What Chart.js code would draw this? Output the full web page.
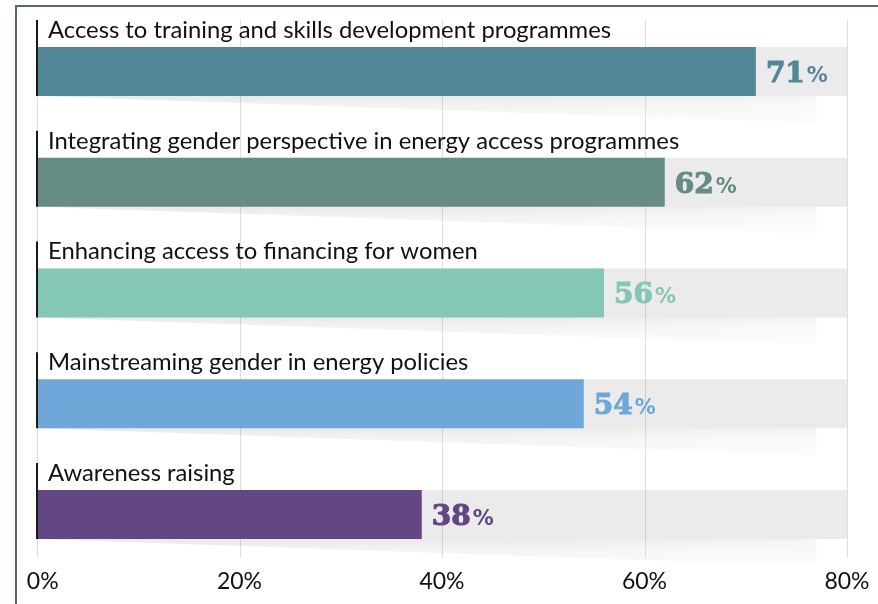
<!DOCTYPE html>
<html><head><meta charset="utf-8">
<script src="https://cdn.jsdelivr.net/npm/chart.js@4.4.1/dist/chart.umd.min.js"></script>
<style>
html,body{margin:0;padding:0;background:#fff;}
#wrap{position:relative;width:878px;height:604px;overflow:hidden;}
#frame{position:absolute;left:15px;top:5px;right:-10px;bottom:-10px;border-left:2px solid #56647f;border-top:2px solid #56647f;}
canvas{position:absolute;left:0;top:0;}
</style></head><body>
<div id="wrap"><div id="frame"></div><canvas id="c" width="878" height="604"></canvas></div>
<script>
const categories = [
  'Access to training and skills development programmes',
  'Integrating gender perspective in energy access programmes',
  'Enhancing access to financing for women',
  'Mainstreaming gender in energy policies',
  'Awareness raising'
];
const values = [71, 62, 56, 54, 38];
const barColors = ['#528896', '#668c86', '#84c7b7', '#6fa7d8', '#634683'];
const axisMax = 80;
const tickStep = 20;

const labelFont = '23.8px Lato';

const decor = {
  id: 'decor',
  beforeDatasetsDraw(chart) {
    const {ctx, chartArea: a, scales: {x}} = chart;
    ctx.save();
    ctx.strokeStyle = '#dedede';
    ctx.lineWidth = 1;
    x.ticks.forEach(t => {
      const px = Math.round(x.getPixelForValue(t.value)) + 0.5;
      ctx.beginPath();
      ctx.moveTo(px, a.top + 4);
      ctx.lineTo(px, a.bottom - 12);
      ctx.stroke();
    });
    const meta = chart.getDatasetMeta(0);
    meta.data.forEach(bar => {
      const y0 = bar.y + bar.height / 2;
      const xl = a.left, xr = a.left + (a.right - a.left) * 0.962;
      const depth = 27;
      const g = ctx.createLinearGradient(0, y0, 0, y0 + depth);
      g.addColorStop(0, 'rgba(0,0,0,0.085)');
      g.addColorStop(0.3, 'rgba(0,0,0,0.05)');
      g.addColorStop(1, 'rgba(0,0,0,0.015)');
      ctx.beginPath();
      ctx.moveTo(xl, y0);
      ctx.lineTo(xr, y0);
      ctx.lineTo(xr, y0 + depth);
      ctx.closePath();
      ctx.fillStyle = g;
      ctx.fill();
      const h = ctx.createLinearGradient(xl, 0, xr, 0);
      h.addColorStop(0, 'rgba(255,255,255,0)');
      h.addColorStop(0.6, 'rgba(255,255,255,0)');
      h.addColorStop(1, 'rgba(255,255,255,0.5)');
      ctx.fillStyle = h;
      ctx.fill();
    });
    ctx.restore();
  },
  afterDatasetsDraw(chart) {
    const {ctx, chartArea: a} = chart;
    const meta = chart.getDatasetMeta(0);
    ctx.save();
    meta.data.forEach((bar, i) => {
      const top = bar.y - bar.height / 2;
      const bottom = bar.y + bar.height / 2;
      ctx.strokeStyle = '#1a1a1a';
      ctx.lineWidth = 2;
      ctx.beginPath();
      ctx.moveTo(a.left, top - 27);
      ctx.lineTo(a.left, bottom);
      ctx.stroke();
      ctx.fillStyle = '#111';
      ctx.font = labelFont;
      ctx.textBaseline = 'alphabetic';
      ctx.textAlign = 'left';
      ctx.fillText(categories[i], a.left + 11, top - 9);
      const numTxt = String(values[i]);
      ctx.fillStyle = barColors[i];
      ctx.strokeStyle = barColors[i];
      ctx.lineWidth = 1.1;
      ctx.lineJoin = 'round';
      ctx.font = 'bold 28px "DejaVu Serif"';
      const bx = bar.x + 10;
      const by = bar.y + 10.5;
      ctx.fillText(numTxt, bx, by);
      ctx.strokeText(numTxt, bx, by);
      const w = ctx.measureText(numTxt).width;
      ctx.font = 'bold 21px "DejaVu Sans"';
      ctx.fillText('%', bx + w + 2, by);
    });
    ctx.restore();
  }
};

new Chart(document.getElementById('c'), {
  type: 'bar',
  data: {
    labels: categories,
    datasets: [
      {
        data: values,
        backgroundColor: barColors,
        borderWidth: 0,
        grouped: false,
        barPercentage: 1,
        categoryPercentage: 0.4425
      },
      {
        data: categories.map(() => axisMax),
        backgroundColor: 'rgba(0,0,0,0.078)',
        borderWidth: 0,
        grouped: false,
        barPercentage: 1,
        categoryPercentage: 0.4425
      }
    ]
  },
  options: {
    indexAxis: 'y',
    responsive: false,
    animation: false,
    events: [],
    layout: { padding: { left: 37, right: 31, top: 16, bottom: 10.5 } },
    plugins: { legend: { display: false }, tooltip: { enabled: false } },
    scales: {
      y: { display: false, offset: true },
      x: {
        min: 0, max: axisMax,
        border: { display: false },
        grid: { display: false, drawTicks: false },
        ticks: {
          stepSize: tickStep,
          padding: -2,
          color: '#111',
          font: { family: 'Lato', size: 23 },
          maxRotation: 0,
          callback: v => (v === 0 ? '\u2002' : '') + v + '%'
        }
      }
    }
  },
  plugins: [decor]
});
</script>
</body></html>
